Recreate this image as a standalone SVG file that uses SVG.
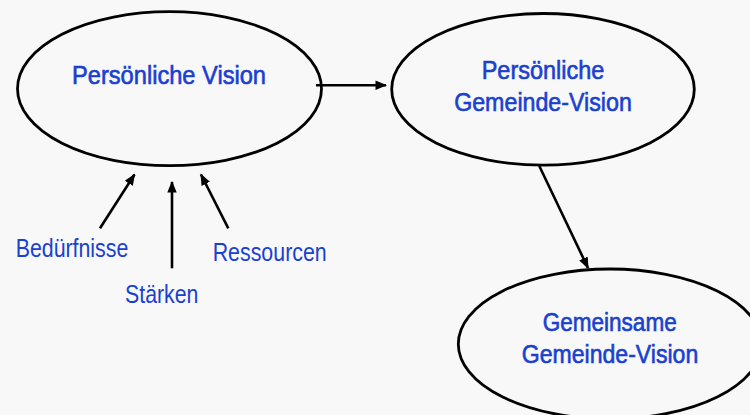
<svg xmlns="http://www.w3.org/2000/svg" width="750" height="415" viewBox="0 0 750 415">
<defs>
<style>
.node{fill:none;stroke:#000;stroke-width:2.8}
.conn{stroke:#000;stroke-width:2.6;fill:none;marker-end:url(#ah)}
.t{font-family:"Liberation Sans Narrow","Liberation Sans",Arial,sans-serif;fill:#1a40d0;text-anchor:middle}
.nt{font-size:25px;stroke:#1a40d0;stroke-width:0.6}
.lt{font-size:26px}
</style>
<marker id="ah" viewBox="0 0 10 10" refX="9" refY="5" markerWidth="4.5" markerHeight="4.5" orient="auto" markerUnits="strokeWidth">
<path d="M0,1 L10,5 L0,9 Z" fill="#000"/>
</marker>
</defs>
<rect width="750" height="415" fill="#f8f8f8"/>
<g id="connectors">
<line class="conn" x1="316" y1="85.3" x2="386" y2="85.3"/>
<line class="conn" x1="539.3" y1="166" x2="588" y2="268"/>
<line class="conn" x1="100" y1="228.3" x2="134.5" y2="174.5"/>
<line class="conn" x1="172" y1="268.3" x2="172" y2="182"/>
<line class="conn" x1="228.3" y1="228.3" x2="201" y2="174.5"/>
</g>
<g id="node-persoenliche-vision">
<ellipse class="node" cx="169.5" cy="88.7" rx="152" ry="77"/>
<text class="t nt" x="169" y="84" textLength="194" lengthAdjust="spacingAndGlyphs">Persönliche Vision</text>
</g>
<g id="node-persoenliche-gemeinde-vision">
<ellipse class="node" cx="543" cy="89.3" rx="151.3" ry="75.8"/>
<text class="t nt" x="543" y="79.3" textLength="122.6" lengthAdjust="spacingAndGlyphs">Persönliche</text>
<text class="t nt" x="543" y="110.7" textLength="177.7" lengthAdjust="spacingAndGlyphs">Gemeinde-Vision</text>
</g>
<g id="node-gemeinsame-gemeinde-vision">
<ellipse class="node" cx="610" cy="344" rx="151.7" ry="75"/>
<text class="t nt" x="609.7" y="330.7" textLength="134" lengthAdjust="spacingAndGlyphs">Gemeinsame</text>
<text class="t nt" x="610" y="362.7" textLength="176.6" lengthAdjust="spacingAndGlyphs">Gemeinde-Vision</text>
</g>
<g id="label-beduerfnisse">
<text class="t lt" x="72" y="256.7" textLength="112.6" lengthAdjust="spacingAndGlyphs">Bedürfnisse</text>
</g>
<g id="label-staerken">
<text class="t lt" x="161.7" y="302.7" textLength="73.3" lengthAdjust="spacingAndGlyphs">Stärken</text>
</g>
<g id="label-ressourcen">
<text class="t lt" x="269.7" y="260.7" textLength="114" lengthAdjust="spacingAndGlyphs">Ressourcen</text>
</g>
</svg>
